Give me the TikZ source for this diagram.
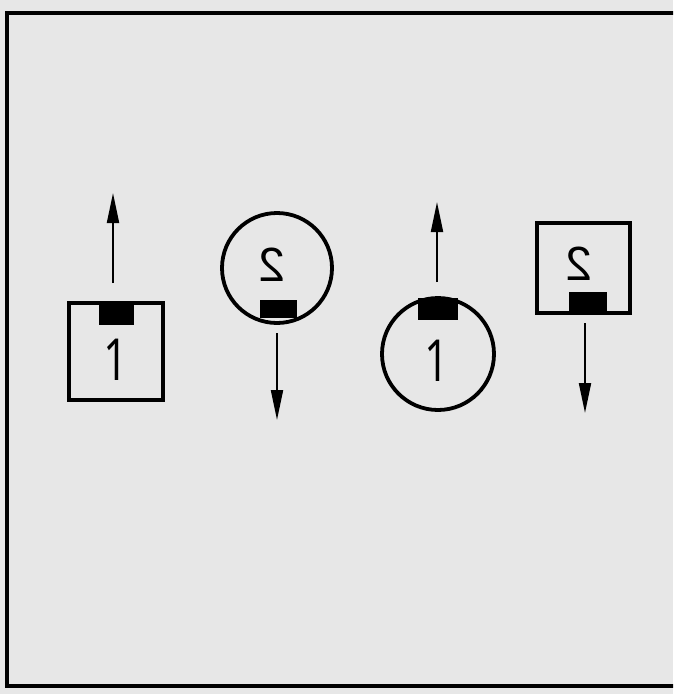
\documentclass[tikz,border=0pt]{standalone}
\usepackage{graphicx}
\usepackage{fontspec}
\setmainfont{Liberation Sans}
\newfontfamily\onefont{Open Sans}
\usetikzlibrary{arrows.meta}
\definecolor{bg}{RGB}{231,231,231}
\tikzset{
  outline/.style={draw=black,line width=3.8pt,inner sep=0pt,fill=none},
  pad/.style={fill=black,draw=none,rectangle,inner sep=0pt},
  digitA/.style={inner sep=0pt,font=\onefont\fontsize{58}{60}\selectfont},
  digitB/.style={inner sep=0pt,font=\fontsize{48}{50}\selectfont},
  arr/.style={line width=2pt,-{Triangle[length=30pt,width=12pt]}}
}
\begin{document}
\begin{tikzpicture}[x=1pt,y=-1pt]
\fill[bg] (0,0) rectangle (673,694);
\clip (0,0) rectangle (673,694);
\draw[line width=4.2pt] (700,13) -- (7,13) -- (7,686) -- (700,686);

% square with 1
\node[outline,rectangle,minimum width=94pt,minimum height=97pt] (sqA) at (116,351.5) {};
\node[pad,minimum width=35pt,minimum height=22pt] (padA) at (116,314) {};
\node[digitA] (labA) at (116,360) {\scalebox{0.75}[1]{1}};
\coordinate (tailA) at (113,283);
\coordinate (tipA) at (113,193);
\draw[arr] (tailA) -- (tipA);

% circle with 2
\node[outline,circle,minimum size=110pt] (ciB) at (277,268) {};
\node[pad,minimum width=37pt,minimum height=18pt] (padB) at (278,309) {};
\node[digitB] (labB) at (272,264.5) {\reflectbox{2}};
\coordinate (tailB) at (277,333);
\coordinate (tipB) at (277,420);
\draw[arr] (tailB) -- (tipB);

% circle with 1
\node[outline,circle,minimum size=112pt] (ciC) at (438,354) {};
\node[pad,minimum width=40pt,minimum height=22pt] (padC) at (438,309) {};
\node[digitA] (labC) at (437,361) {\scalebox{0.75}[1]{1}};
\coordinate (tailC) at (437,282);
\coordinate (tipC) at (437,202);
\draw[arr] (tailC) -- (tipC);

% square with 2
\node[outline,rectangle,minimum width=93pt,minimum height=90pt] (sqD) at (583.5,268) {};
\node[pad,minimum width=38pt,minimum height=21pt] (padD) at (588,302.5) {};
\node[digitB] (labD) at (579,263.5) {\reflectbox{2}};
\coordinate (tailD) at (585,323);
\coordinate (tipD) at (585,413);
\draw[arr] (tailD) -- (tipD);
\end{tikzpicture}
\end{document}
